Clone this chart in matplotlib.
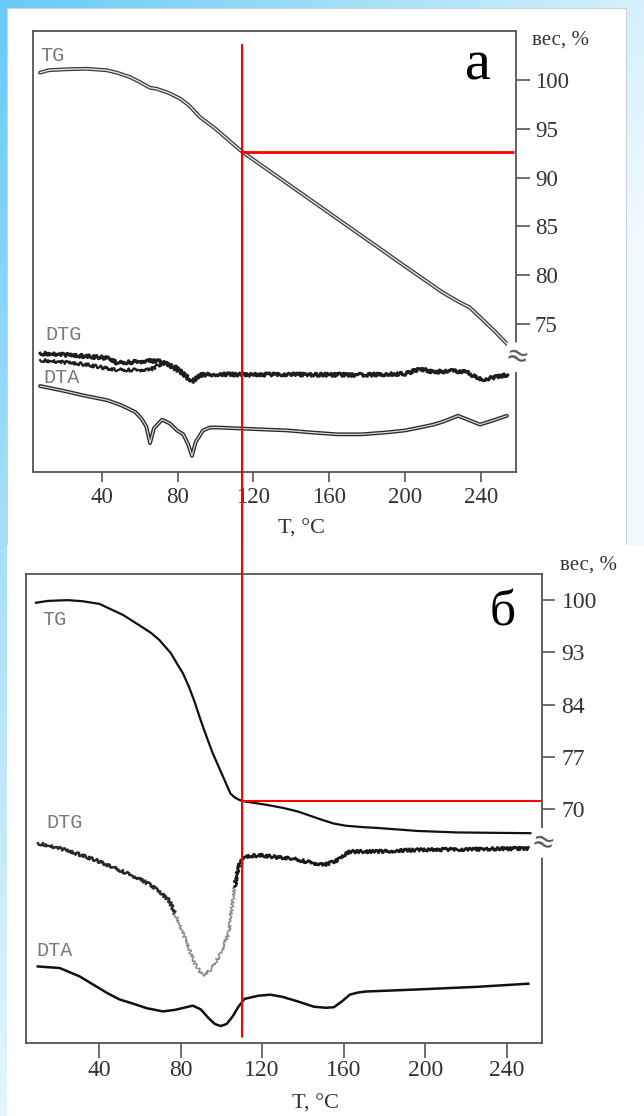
import numpy as np
import matplotlib.pyplot as plt
from matplotlib.patches import Rectangle, ConnectionPatch
from matplotlib import transforms

plt.rcParams['font.family'] = ['Liberation Serif', 'DejaVu Serif']

# ---- panel а: TG (%), DTG and DTA (arbitrary units) vs T (°C) ----
t_tg_a = [7.5, 12, 21.5, 32, 42.6, 48, 54.9, 60, 65.5, 69, 75, 81.3, 86, 91.8,
          100, 114, 140, 170, 200, 220, 228, 234, 240, 248, 254]
tg_a = [100.75, 101.0, 101.1, 101.15, 101.0, 100.75, 100.3, 99.8, 99.2, 99.1,
        98.7, 98.1, 97.4, 96.2, 95.0, 92.65, 89.1, 85.0, 80.9, 78.2, 77.3,
        76.7, 75.6, 74.1, 72.9]

t_dtg_a = [7.5, 20, 32, 44.4, 47.9, 55, 63.7, 70.7, 79.5, 84.8, 87.4, 92.7,
           100, 120, 140, 160, 180, 200, 208, 215, 225, 232, 240, 246, 254]
dtg_a = [2.2, 2.05, 1.9, 1.7, 1.2, 1.3, 1.4, 1.4, 0.7, -0.2, -0.7, 0.0, 0.05,
         0.0, 0.05, 0.0, 0.0, 0.1, 0.6, 0.3, 0.4, 0.3, -0.5, -0.3, 0.0]
t_dtg_a2 = [7.5, 30, 47.9, 65.5, 72.3, 81.3, 86.5]
dtg_a2 = [1.5, 1.1, 0.5, 0.5, 1.2, 0.3, -0.5]

t_dta_a = [7.5, 20, 30, 42.8, 50, 57.6, 61, 63.5, 65.5, 67.5, 71.8, 76, 79.7,
           83, 85.5, 87.6, 89.5, 93.4, 97, 100.8, 112.9, 125, 137.7, 150, 164,
           177, 190.4, 200, 207.8, 215, 220, 227.8, 233, 239.4, 246, 253.6]
dta_a = [4.35, 3.85, 3.4, 2.9, 2.4, 1.7, 1.0, 0.2, -1.5, 0.0, 0.9, 0.5, -0.2,
         -0.6, -1.6, -2.8, -1.4, -0.2, 0.1, 0.1, 0.0, -0.1, -0.2, -0.4, -0.6,
         -0.6, -0.4, -0.2, 0.1, 0.4, 0.7, 1.3, 0.9, 0.4, 0.8, 1.3]

wt_ticks_a = [75, 80, 85, 90, 95, 100]
t_mark_a, wt_mark_a = 114, 92.65

# ---- panel б ----
t_tg_b = [9.1, 15, 24.7, 32, 40.2, 51.9, 60, 65.6, 69.5, 75.3, 78.2, 81.2,
          84.1, 87, 89.9, 92.8, 95.8, 98.7, 101.6, 104.5, 106.5, 108.5, 110.4,
          115, 122.1, 130, 137.6, 145, 149.3, 155, 161, 170, 176.6, 196.1,
          215.6, 251.6]
tg_b = [99.65, 99.9, 100.0, 99.85, 99.5, 98.0, 96.6, 95.6, 94.7, 92.85, 91.1,
        89.4, 87.1, 84.4, 81.9, 79.7, 77.5, 75.7, 73.9, 72.1, 71.6, 71.3, 71.1,
        70.9, 70.6, 70.2, 69.7, 69.0, 68.6, 68.1, 67.8, 67.6, 67.5, 67.1, 66.9,
        66.8]

t_dtg_b = [10, 20.7, 30, 40.2, 55.8, 65.6, 74.3, 77.3, 83.1, 87, 90.9, 94.8,
           99.7, 103.6, 106.5, 108.4, 111.4, 118.2, 133.8, 141.6, 150.3, 157.2,
           163, 176.6, 196.1, 215.6, 250.6]
dtg_b = [0.13, 0.03, -0.08, -0.22, -0.48, -0.67, -0.96, -1.21, -1.78, -2.17,
         -2.4, -2.29, -1.98, -1.59, -0.70, -0.32, -0.13, -0.10, -0.16, -0.22,
         -0.29, -0.19, -0.03, -0.03, 0.0, 0.01, 0.03]

t_dta_b = [10, 20.7, 30.5, 37.3, 44.1, 50, 55.8, 63.6, 71.4, 77.3, 86, 89.9,
           93.8, 96.8, 99.7, 102.6, 105.5, 108.4, 111.4, 118.2, 124, 129.9,
           137.6, 145.4, 151.3, 155.2, 159.1, 163, 166.9, 170.8, 196.1, 225.3,
           250.6]
dta_b = [0.64, 0.61, 0.45, 0.29, 0.13, 0.01, -0.06, -0.16, -0.22, -0.19, -0.11,
         -0.18, -0.35, -0.46, -0.50, -0.46, -0.32, -0.13, 0.02, 0.08, 0.10,
         0.06, -0.03, -0.13, -0.15, -0.14, -0.03, 0.10, 0.14, 0.16, 0.20, 0.25,
         0.31]

wt_ticks_b = [70, 77, 84, 93, 100]
t_mark_b, wt_mark_b = 110.2, 71.1

t_ticks = [40, 80, 120, 160, 200, 240]

W, H = 644, 1116
fig = plt.figure(figsize=(W / 100, H / 100), dpi=100)


def fx(px):
    return px / W


def fy(py):
    return 1 - py / H


# slide background
bg = fig.add_axes([0, 0, 1, 1], zorder=-10)
gx, gy = np.meshgrid(np.linspace(0, 1, 160), np.linspace(0, 1, 280))
k = np.clip(0.8 * gx + 0.9 * gy, 0, 1)[..., None]
c0 = np.array([0x66, 0xcb, 0xf5]) / 255
c1 = np.array([0xf2, 0xfa, 0xff]) / 255
bg.imshow(c0 + (c1 - c0) * k, extent=(0, W, H, 0), aspect='auto')
bg.add_patch(Rectangle((7, 8), 619, 537, fc='white', ec='#c8d2d8', lw=0.8))
bg.add_patch(Rectangle((7, 545), 637, 571, fc='white', ec='none'))
bg.set_xlim(0, W)
bg.set_ylim(H, 0)
bg.axis('off')

axis_col = '#555555'
text_col = '#333333'
mono = ['Liberation Mono', 'DejaVu Sans Mono']

ax_a = fig.add_axes([fx(33.3), fy(472), (516 - 33.3) / W, (472 - 31) / H])
ax_b = fig.add_axes([fx(26), fy(1043), (542 - 26) / W, (1043 - 574) / H])

# panel б weight axis has uneven tick steps
pct_pts = [0, 70, 77, 84, 93, 100, 120]
pos_pts = [-10, 0, 1, 2, 3, 4, 4 + 20 / 7]


def wt_fwd(v):
    return np.interp(v, pct_pts, pos_pts)


def wt_inv(u):
    return np.interp(u, pos_pts, pct_pts)


ax_b.set_yscale('function', functions=(wt_fwd, wt_inv))

dax_a = ax_a.twinx()
dax_b = ax_b.twinx()
for d in (dax_a, dax_b):
    d.axis('off')

ax_a.set_xlim(3.94, 258.4)
ax_a.set_ylim(59.84, 105.02)
dax_a.set_ylim(59.84, 105.02)
ax_b.set_xlim(4.2, 257.3)
ax_b.set_ylim(wt_inv(-4.47), wt_inv(4.50))
dax_b.set_ylim(-4.47, 4.50)

for ax, wt_ticks in ((ax_a, wt_ticks_a), (ax_b, wt_ticks_b)):
    ax.yaxis.tick_right()
    ax.set_xticks(t_ticks)
    ax.set_yticks(wt_ticks)
    ax.set_yticks([], minor=True)
    ax.set_yticklabels([str(v) for v in wt_ticks])
    for s in ax.spines.values():
        s.set_color(axis_col)
        s.set_linewidth(1.3)

ax_a.tick_params(axis='x', direction='out', length=7.5, width=1.2, color=axis_col,
                 pad=3, labelsize=16.5, labelcolor=text_col)
ax_a.tick_params(axis='y', direction='out', length=10, width=1.2, color=axis_col,
                 pad=3.5, labelsize=16.5, labelcolor=text_col)
ax_b.tick_params(axis='x', direction='out', length=11, width=1.2, color=axis_col,
                 pad=1.5, labelsize=17, labelcolor=text_col)
ax_b.tick_params(axis='y', direction='out', length=9, width=1.2, color=axis_col,
                 pad=5, labelsize=17, labelcolor=text_col)

# panel а traces: hollow pen strokes for TG and DTA, noisy DTG
ax_a.plot(t_tg_a, tg_a, color='#3a3a3a', lw=2.8, solid_capstyle='round')
ax_a.plot(t_tg_a, tg_a, color='#e4e4e4', lw=1.0, solid_capstyle='round')

dtg_off_a, dta_off_a = 69.8, 64.3
dta_y = dta_off_a + np.array(dta_a)
dax_a.plot(t_dta_a, dta_y, color='#2a2a2a', lw=2.8, solid_capstyle='round')
dax_a.plot(t_dta_a, dta_y, color='#d8d8d8', lw=0.9, solid_capstyle='round')

for tt, vv, lw in ((t_dtg_a, dtg_a, 2.2), (t_dtg_a2, dtg_a2, 1.6)):
    ln, = dax_a.plot(tt, dtg_off_a + np.array(vv), color='#1e1e1e', lw=lw)
    ln.set_sketch_params(scale=1.6, length=2.5, randomness=3)

# panel б traces
ax_b.plot(t_tg_b, tg_b, color='#111111', lw=1.6)

dtg_off_b, dta_off_b = -0.778, -3.646
dax_b.plot(t_dta_b, dta_off_b + np.array(dta_b), color='#111111', lw=1.8)

tb = np.array(t_dtg_b)
vb = dtg_off_b + np.array(dtg_b)
fast = (tb >= 77.3) & (tb <= 106.5)
for m, col, lw in (((tb <= 77.3), '#2a2a2a', 1.7), (fast, '#8a8a8a', 1.1),
                   ((tb >= 106.5), '#1a1a1a', 1.9)):
    ln, = dax_b.plot(tb[m], vb[m], color=col, lw=lw)
    ln.set_sketch_params(scale=1.5, length=2.5, randomness=3)

# marker lines
ax_a.hlines(wt_mark_a, t_mark_a, 257.3, color='red', lw=2.0, zorder=5)
ax_b.hlines(wt_mark_b, t_mark_b, 257.3, color='red', lw=1.5, zorder=5, clip_on=False)
vline = ConnectionPatch(xyA=(t_mark_a, 103.6), coordsA=ax_a.transData,
                        xyB=(t_mark_b, wt_inv(-4.35)), coordsB=ax_b.transData,
                        color='red', lw=1.6, zorder=10)
fig.add_artist(vline)

# axis breaks
for ax, yb in ((ax_a, 71.6), (ax_b, 65.5)):
    tr = transforms.blended_transform_factory(ax.transAxes, ax.transData)
    ax.text(1.0, yb, '≈', transform=tr, ha='center', va='center', fontsize=20,
            color=axis_col, zorder=6, family=['DejaVu Sans'], rotation=-15,
            bbox=dict(fc='white', ec='none', pad=0.2))

# labels
fig.text(fx(301), fy(529), 'T, °C', ha='center', va='center', fontsize=16, color=text_col)
fig.text(fx(315), fy(1104), 'T, °C', ha='center', va='center', fontsize=16, color=text_col)
fig.text(fx(560), fy(40), 'вес, %', ha='center', va='center', fontsize=15, color=text_col)
fig.text(fx(589), fy(565), 'вес, %', ha='center', va='center', fontsize=15, color=text_col)
fig.text(fx(478), fy(80), 'а', ha='center', va='baseline', fontsize=42, color='black')
fig.text(fx(503), fy(625), 'б', ha='center', va='baseline', fontsize=37, color='black')

for x, y, s in ((40, 61, 'TG'), (45, 340, 'DTG'), (43, 383, 'DTA'),
                (42, 625, 'TG'), (46, 828, 'DTG'), (36, 956, 'DTA')):
    fig.text(fx(x), fy(y), s, ha='left', va='baseline', fontsize=14.5,
             color='#7a7a7a', family=mono)

fig.savefig('out.png', dpi=100)
